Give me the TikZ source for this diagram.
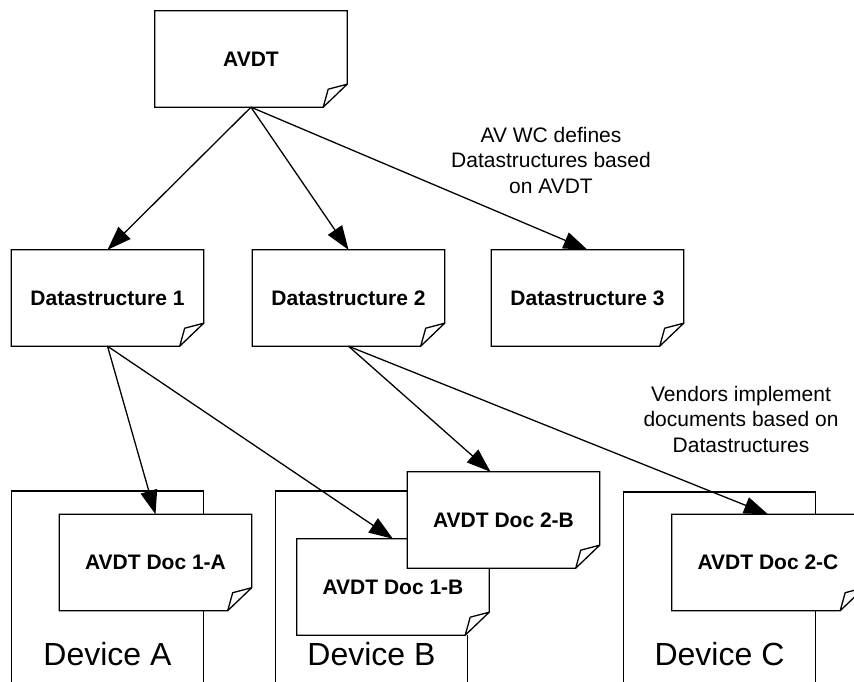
\documentclass[tikz,border=0pt]{standalone}
\usepackage{fontspec}
\setmainfont{Liberation Sans}
\usetikzlibrary{arrows.meta}
\usetikzlibrary{calc}

\tikzset{
  doc/.style={rectangle, fill=white, inner sep=0pt,
    minimum width=192pt, minimum height=96pt,
    font=\fontsize{21}{25}\selectfont\bfseries},
  device/.style={rectangle, draw, line width=1.3pt, inner sep=0pt,
    minimum width=192pt, minimum height=230pt},
  devtext/.style={font=\fontsize{32}{38}\selectfont, inner sep=0pt, anchor=base},
  remark/.style={font=\fontsize{21}{25.5}\selectfont, align=center,
    inner sep=0pt, anchor=north},
  link/.style={-{Triangle[length=24pt,width=17pt]}, line width=1.3pt},
}

% sheet with the lower right corner turned up
\newcommand\docnode[3]{%
  \node[doc] (#1) at (#2) {#3};
  \draw[line width=1.3pt, line join=miter]
    (#1.north west) -- (#1.north east) -- ([yshift=23pt]#1.south east)
    -- ([xshift=-24pt]#1.south east) -- (#1.south west) -- cycle
    ([xshift=-24pt]#1.south east) -- ([xshift=-19pt,yshift=18pt]#1.south east)
    -- ([yshift=23pt]#1.south east);
}

\begin{document}
\begin{tikzpicture}[x=1pt, y=-1pt]
  \useasboundingbox (0,0) rectangle (854,682);
  \clip (0,0) rectangle (854,682);

\node[device] (devA) at (107.5,606) {};
\node[device] (devB) at (371.5,606) {};
\node[device] (devC) at (719.5,607) {};

\docnode{d1a}{155.5,562.5}{AVDT Doc 1-A}
\docnode{d1b}{393,587}{AVDT Doc 1-B}
\docnode{d2b}{503.5,520}{AVDT Doc 2-B}
\docnode{d2c}{768,562.5}{AVDT Doc 2-C}

\node[devtext] (labA) at (devA.center |- 0,665) {Device A};
\node[devtext] (labB) at (devB.center |- 0,665) {Device B};
\node[devtext] (labC) at (devC.center |- 0,665) {Device C};

\docnode{avdt}{251,59}{AVDT}
\docnode{ds1}{107.5,298}{Datastructure 1}
\docnode{ds2}{348.5,298}{Datastructure 2}
\docnode{ds3}{587.5,298}{Datastructure 3}

\node[remark] (noteWC) at (551,127) {AV WC defines\\Datastructures based\\on AVDT};
\node[remark] (noteVendors) at (741,386) {Vendors implement\\documents based on\\Datastructures};

\foreach \t in {ds1,ds2,ds3}
  \draw[link] (avdt.south) -- (\t.north);
\draw[link] (ds1.south) -- (d1a.north);
\draw[link] (ds1.south) -- (d1b.north);
\draw[link] (ds2.south) -- ([xshift=-13pt]d2b.north);
\draw[link] (ds2.south) -- (d2c.north);

\end{tikzpicture}
\end{document}
